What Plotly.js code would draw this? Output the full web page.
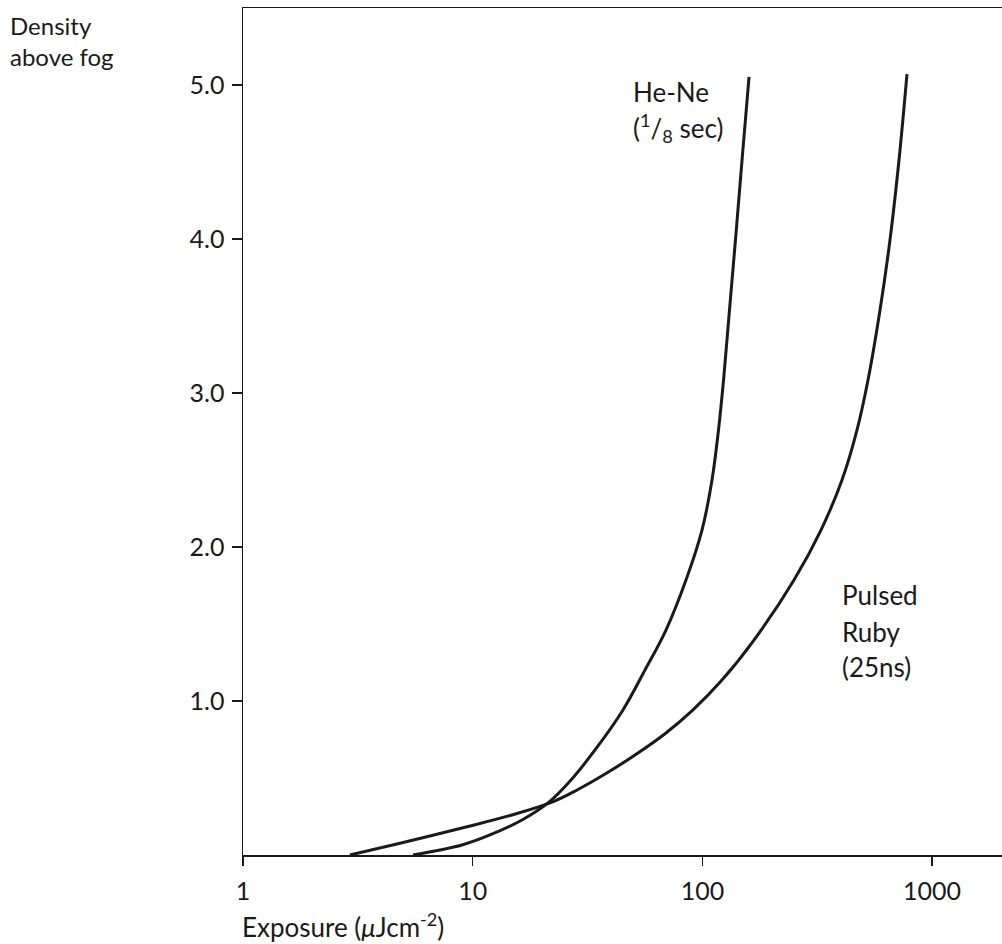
<!DOCTYPE html>
<html>
<head>
<meta charset="utf-8">
<script src="https://cdn.plot.ly/plotly-3.0.1.min.js"></script>
<style>html,body{margin:0;padding:0;background:#fff;}#chart{width:1002px;height:944px;}</style>
</head>
<body>
<div id="chart"></div>
<script>
// He-Ne (1/8 sec) characteristic curve
const heneExposure = [5.50, 8.98, 11.89, 16.39, 21.28, 26.79, 34.08, 45.11, 56.25, 69.41, 84.83, 99.6, 110.1, 117.5, 123.6, 131.2, 139.3, 148.8, 159.6];
const heneDensity  = [0, 0.065, 0.130, 0.227, 0.338, 0.487, 0.682, 0.942, 1.201, 1.461, 1.786, 2.110, 2.435, 2.760, 3.084, 3.539, 3.994, 4.513, 5.052];
// Pulsed Ruby (25ns) characteristic curve
const rubyExposure = [2.92, 4.88, 9.35, 14.83, 21.70, 28.46, 35.84, 50.89, 69.41, 91.0, 121.7, 167.7, 250.5, 328.3, 405.3, 471.2, 526.0, 593.3, 655.7, 717.6, 777.5];
const rubyDensity  = [0, 0.078, 0.182, 0.260, 0.338, 0.422, 0.506, 0.649, 0.792, 0.942, 1.136, 1.396, 1.786, 2.110, 2.435, 2.760, 3.084, 3.539, 3.994, 4.513, 5.071];

const xTickVals = [1, 10, 100, 1000];
const xTickText = ["1", "10", "100", "1000"];
const yTickVals = [1, 2, 3, 4, 5];
const yTickText = ["1.0", "2.0", "3.0", "4.0", "5.0"];

const FONT = "Lato, 'Open Sans', sans-serif";
const INK = "#1a1a1a";
const L = 243, R = 1002, T = 8, B = 855;
const px = x => (x - L) / (R - L);
const py = y => (B - y) / (B - T);

function label(text, x, y, size) {
  return {text: text, xref: "paper", yref: "paper", x: px(x), y: py(y),
          xanchor: "left", yanchor: "middle", align: "left", showarrow: false,
          font: {family: FONT, size: size || 26, color: INK}};
}

const lineStyle = {color: INK, width: 3, shape: "spline", smoothing: 1};

const data = [
  {x: heneExposure, y: heneDensity, mode: "lines", line: lineStyle, name: "He-Ne", hoverinfo: "skip"},
  {x: rubyExposure, y: rubyDensity, mode: "lines", line: lineStyle, name: "Pulsed Ruby", hoverinfo: "skip"}
];

const layout = {
  width: 1002, height: 944,
  margin: {l: L, r: 0, t: T, b: 944 - B, pad: 0},
  paper_bgcolor: "#fff", plot_bgcolor: "#fff",
  showlegend: false,
  font: {family: FONT, size: 25, color: INK},
  xaxis: {
    type: "log", range: [0, (R - L) / 229.7],
    tickvals: xTickVals, ticktext: xTickText,
    ticks: "outside", ticklen: 9, tickwidth: 1.5, tickcolor: INK,
    showline: true, linecolor: INK, linewidth: 1.5, mirror: true,
    showgrid: false, zeroline: false, ticklabelstandoff: 4,
    tickfont: {family: FONT, size: 25, color: INK}
  },
  yaxis: {
    range: [0, (B - T) / 154],
    tickvals: yTickVals, ticktext: yTickText,
    ticks: "outside", ticklen: 10, tickwidth: 1.5, tickcolor: INK,
    showline: true, linecolor: INK, linewidth: 1.5, mirror: false,
    showgrid: false, zeroline: false, ticklabelstandoff: 2,
    tickfont: {family: FONT, size: 25, color: INK}
  },
  annotations: [
    label("Density<br>above fog", 8, 41, 24),
    label("He-Ne", 631, 92),
    label("(<sup>1</sup>/<sub>8</sub> sec)", 631, 128),
    label("Pulsed", 840, 595),
    label("Ruby", 840, 632),
    label("(25ns)", 840, 667),
    label("Exposure (<i>μ</i>Jcm<sup>-2</sup>)", 240, 925)
  ]
};

Plotly.newPlot("chart", data, layout, {staticPlot: true, displayModeBar: false});
</script>
</body>
</html>
